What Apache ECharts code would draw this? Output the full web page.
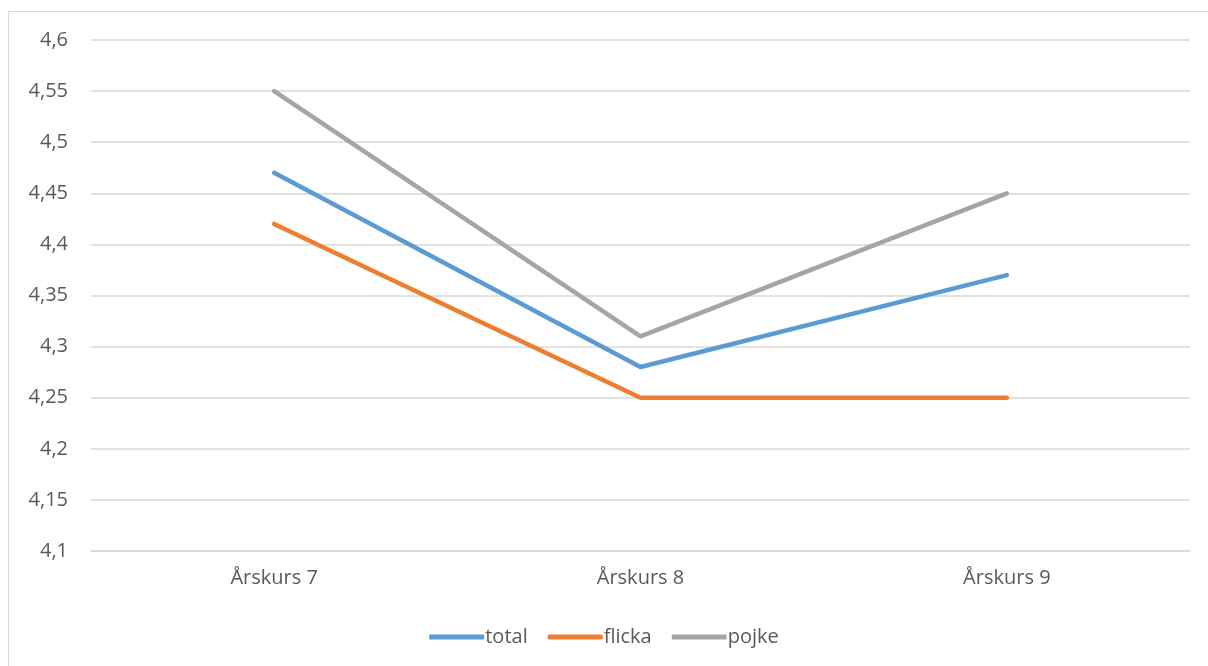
<!DOCTYPE html>
<html>
<head>
<meta charset="utf-8">
<script src="https://cdn.jsdelivr.net/npm/echarts@6/dist/echarts.min.js"></script>
<style>
  html, body { margin: 0; padding: 0; background: #fff; }
  #frame { position: absolute; left: 8px; top: 11px; width: 1220px; height: 680px; border: 1px solid #d9d9d9; }
  #chart { position: absolute; left: 0; top: 0; width: 1208px; height: 666px; }
</style>
</head>
<body>
<div id="frame"></div>
<div id="chart"></div>
<script>
const categories = ['Årskurs 7', 'Årskurs 8', 'Årskurs 9'];
const total = [4.47, 4.28, 4.37];
const flicka = [4.42, 4.25, 4.25];
const pojke = [4.55, 4.31, 4.45];

const labelFont = '"Open Sans", "Noto Sans", sans-serif';

function line(name, data, color) {
    return {
        name: name,
        type: 'line',
        data: data,
        symbol: 'none',
        lineStyle: { color: color, width: 4.5, cap: 'round' },
        itemStyle: { color: color }
    };
}

const option = {
    animation: false,
    legend: {
        top: 622,
        left: 'center',
        itemWidth: 55,
        itemHeight: 5,
        itemGap: 20,
        icon: 'roundRect',
        data: ['total', 'flicka', 'pojke'],
        textStyle: { color: '#595959', fontSize: 20, fontFamily: labelFont, padding: [0, 0, 0, -4] }
    },
    grid: { left: 91, right: 18, top: 40, bottom: 115 },
    xAxis: {
        type: 'category',
        data: categories,
        boundaryGap: true,
        axisLine: { lineStyle: { color: '#d9d9d9', width: 1.5 } },
        axisTick: { show: false },
        axisLabel: { color: '#595959', fontSize: 20, fontFamily: labelFont, margin: 17 }
    },
    yAxis: {
        type: 'value',
        min: 4.1,
        max: 4.6,
        interval: 0.05,
        axisLine: { show: false },
        axisTick: { show: false },
        splitLine: { lineStyle: { color: '#d9d9d9', width: 1.5 } },
        axisLabel: {
            color: '#595959', fontSize: 20, fontFamily: labelFont, margin: 23,
            formatter: v => parseFloat(v.toFixed(2)).toString().replace('.', ',')
        }
    },
    series: [
        line('total', total, '#5b9bd5'),
        line('flicka', flicka, '#ed7d31'),
        line('pojke', pojke, '#a5a5a5')
    ]
};

const chart = echarts.init(document.getElementById('chart'));
chart.setOption(option);
</script>
</body>
</html>
